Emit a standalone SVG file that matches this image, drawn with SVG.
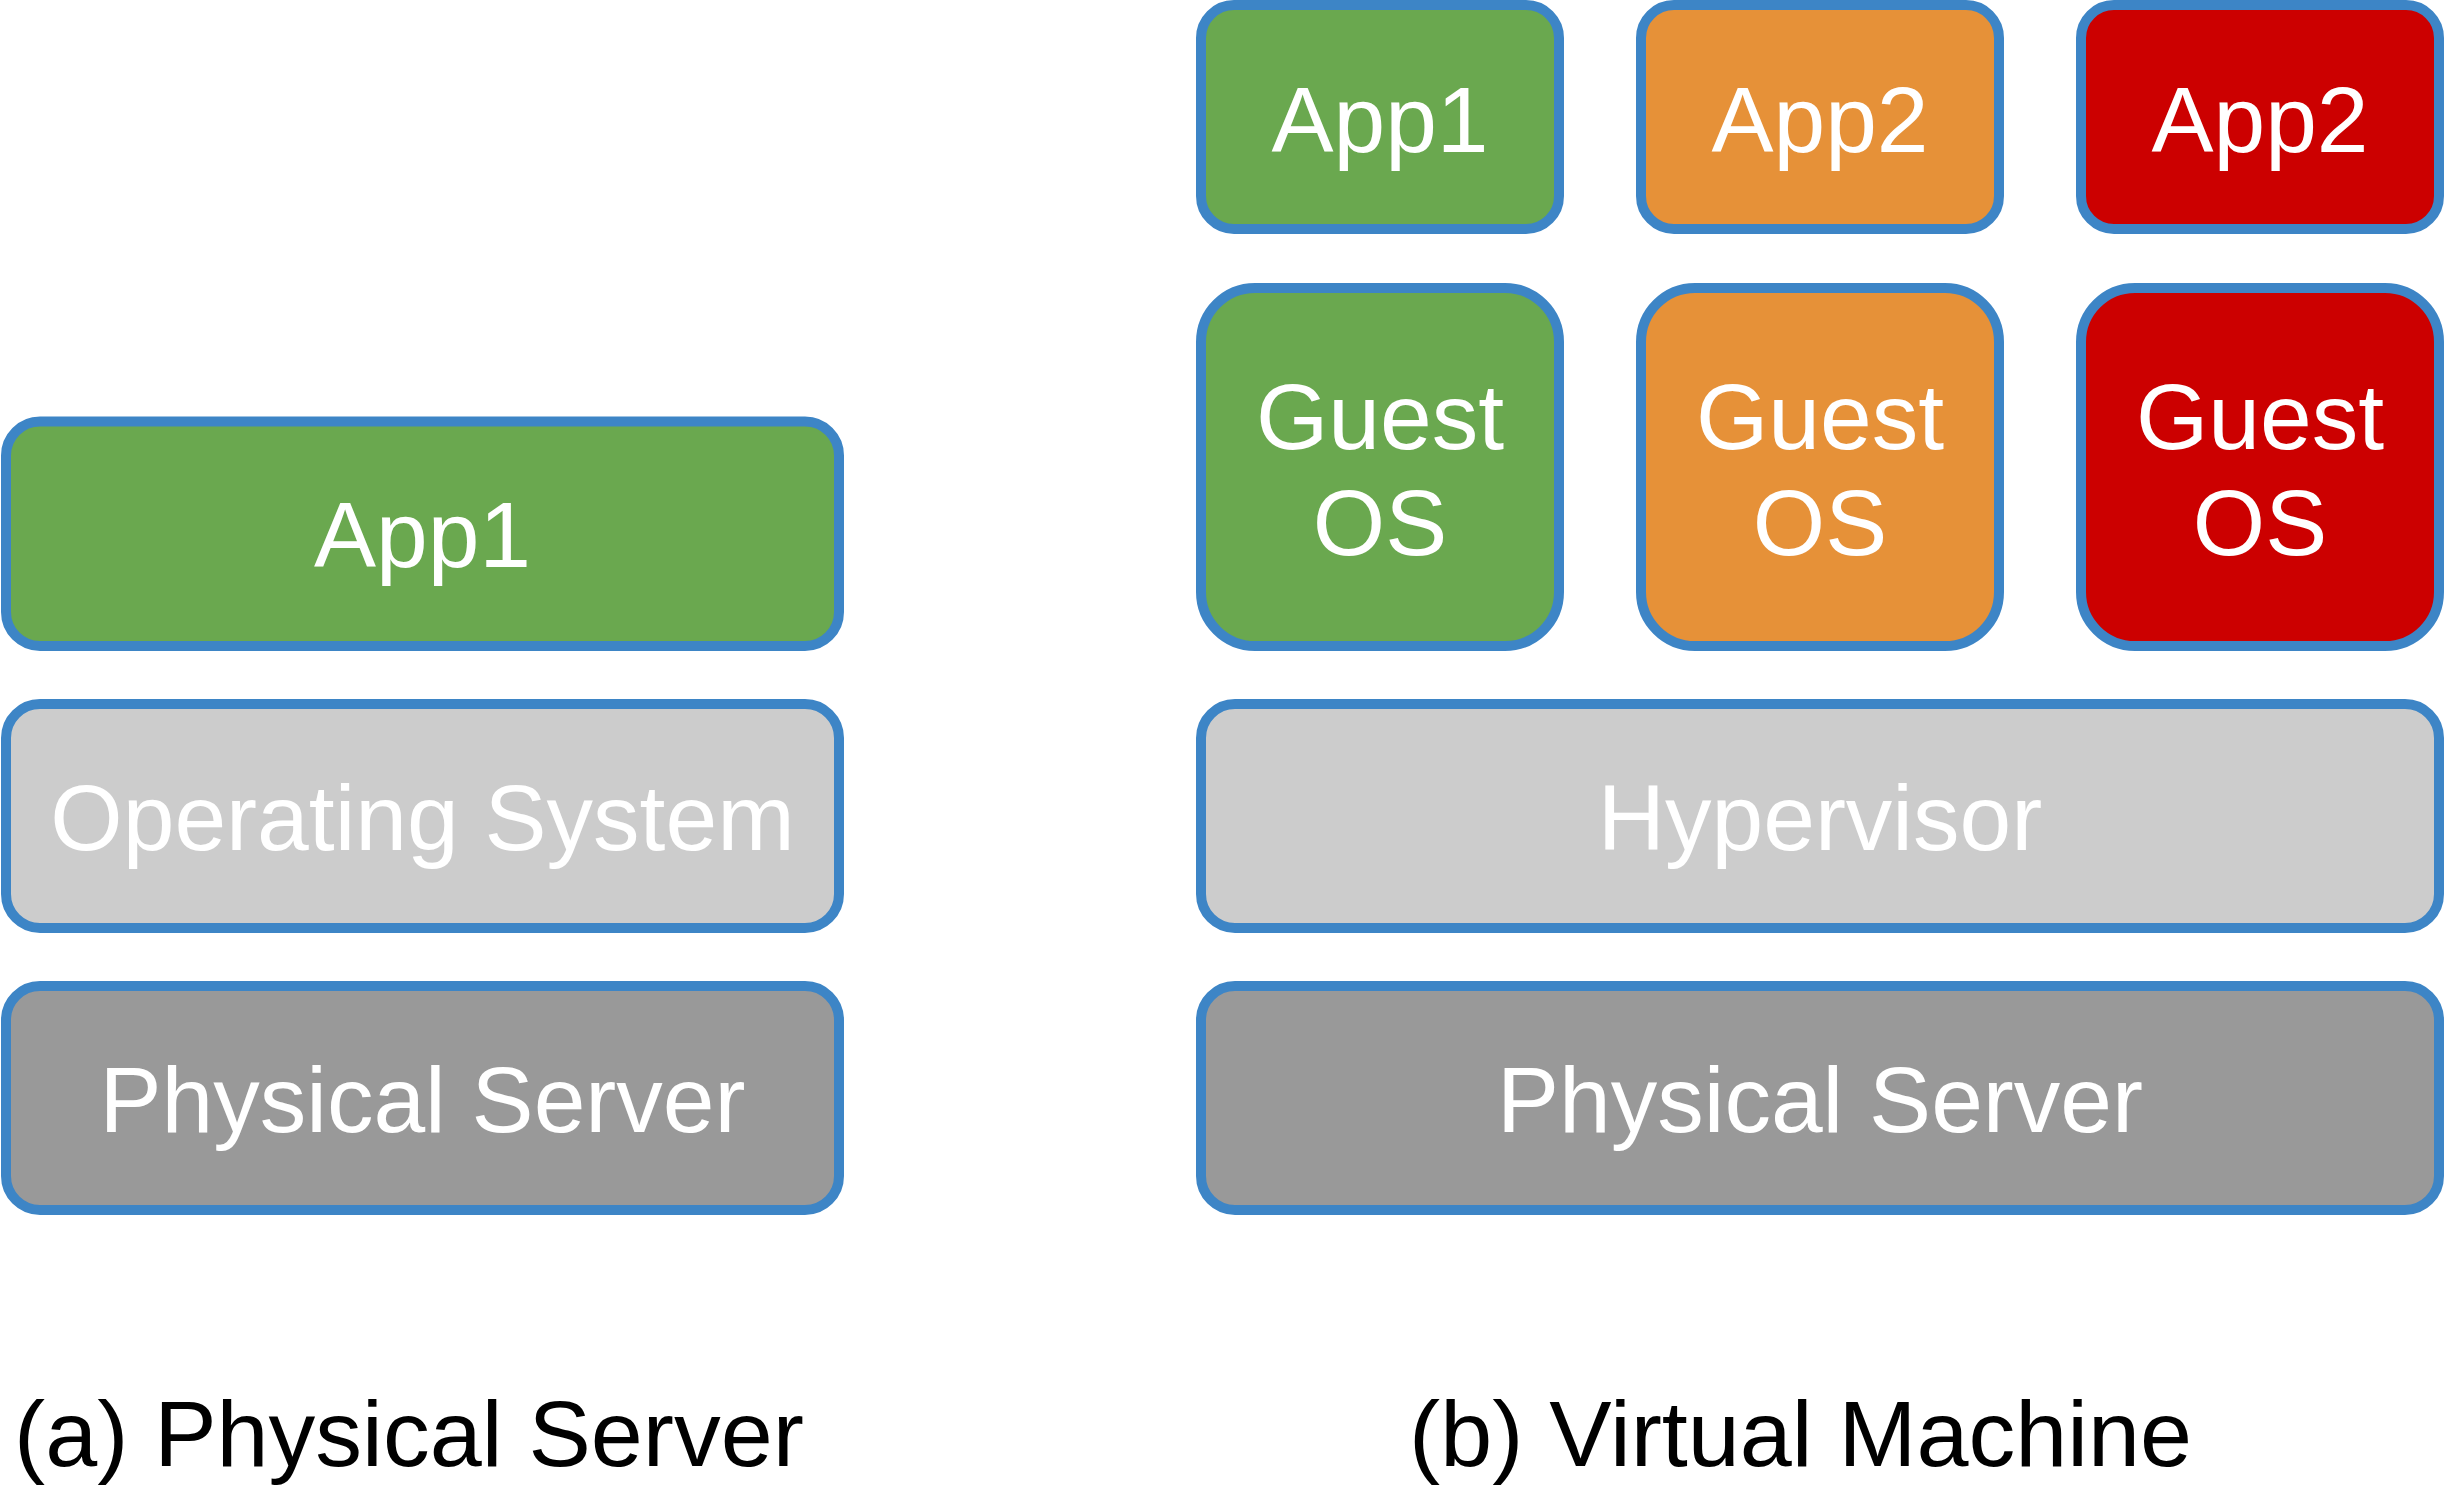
<svg xmlns="http://www.w3.org/2000/svg" width="2445" height="1487" viewBox="0 0 2445 1487">
<style>
.box{stroke:#3D85C6;stroke-width:10}
.green{fill:#6AA84F}
.orange{fill:#E69138}
.red{fill:#CC0000}
.light{fill:#CCCCCC}
.dark{fill:#999999}
.lbl{font-family:"Liberation Sans",Arial,sans-serif;font-size:93px;fill:#FFFFFF;text-anchor:middle}
.cap{font-family:"Liberation Sans",Arial,sans-serif;font-size:93.5px;fill:#000000}
</style>
<rect width="2445" height="1487" fill="#FFFFFF"/>
<g id="a-app1">
<rect class="box green" x="6" y="421.5" width="833" height="224.5" rx="34"/>
<text class="lbl" x="422.5" y="567">App1</text>
</g>
<g id="a-os">
<rect class="box light" x="6" y="704" width="833" height="224" rx="34"/>
<text class="lbl" x="422.5" y="850">Operating System</text>
</g>
<g id="a-server">
<rect class="box dark" x="6" y="986" width="833" height="224" rx="34"/>
<text class="lbl" x="422.5" y="1132">Physical Server</text>
</g>
<g id="b-app1">
<rect class="box green" x="1201" y="5" width="358" height="224" rx="33"/>
<text class="lbl" x="1380" y="152">App1</text>
</g>
<g id="b-app2a">
<rect class="box orange" x="1641" y="5" width="358" height="224" rx="33"/>
<text class="lbl" x="1820" y="152">App2</text>
</g>
<g id="b-app2b">
<rect class="box red" x="2081" y="5" width="358" height="224" rx="33"/>
<text class="lbl" x="2260" y="152">App2</text>
</g>
<g id="b-guest1">
<rect class="box green" x="1201" y="288" width="358" height="358" rx="54"/>
<text class="lbl" x="1380" y="449">Guest</text>
<text class="lbl" x="1380" y="555">OS</text>
</g>
<g id="b-guest2">
<rect class="box orange" x="1641" y="288" width="358" height="358" rx="54"/>
<text class="lbl" x="1820" y="449">Guest</text>
<text class="lbl" x="1820" y="555">OS</text>
</g>
<g id="b-guest3">
<rect class="box red" x="2081" y="288" width="358" height="358" rx="54"/>
<text class="lbl" x="2260" y="449">Guest</text>
<text class="lbl" x="2260" y="555">OS</text>
</g>
<g id="b-hypervisor">
<rect class="box light" x="1201" y="704" width="1238" height="224" rx="34"/>
<text class="lbl" x="1820" y="850">Hypervisor</text>
</g>
<g id="b-server">
<rect class="box dark" x="1201" y="986" width="1238" height="224" rx="34"/>
<text class="lbl" x="1820" y="1132">Physical Server</text>
</g>
<g id="connectors"></g>
<g id="captions">
<text class="cap" x="14" y="1466">(a) Physical Server</text>
<text class="cap" x="1409" y="1466">(b) Virtual Machine</text>
</g>
</svg>
